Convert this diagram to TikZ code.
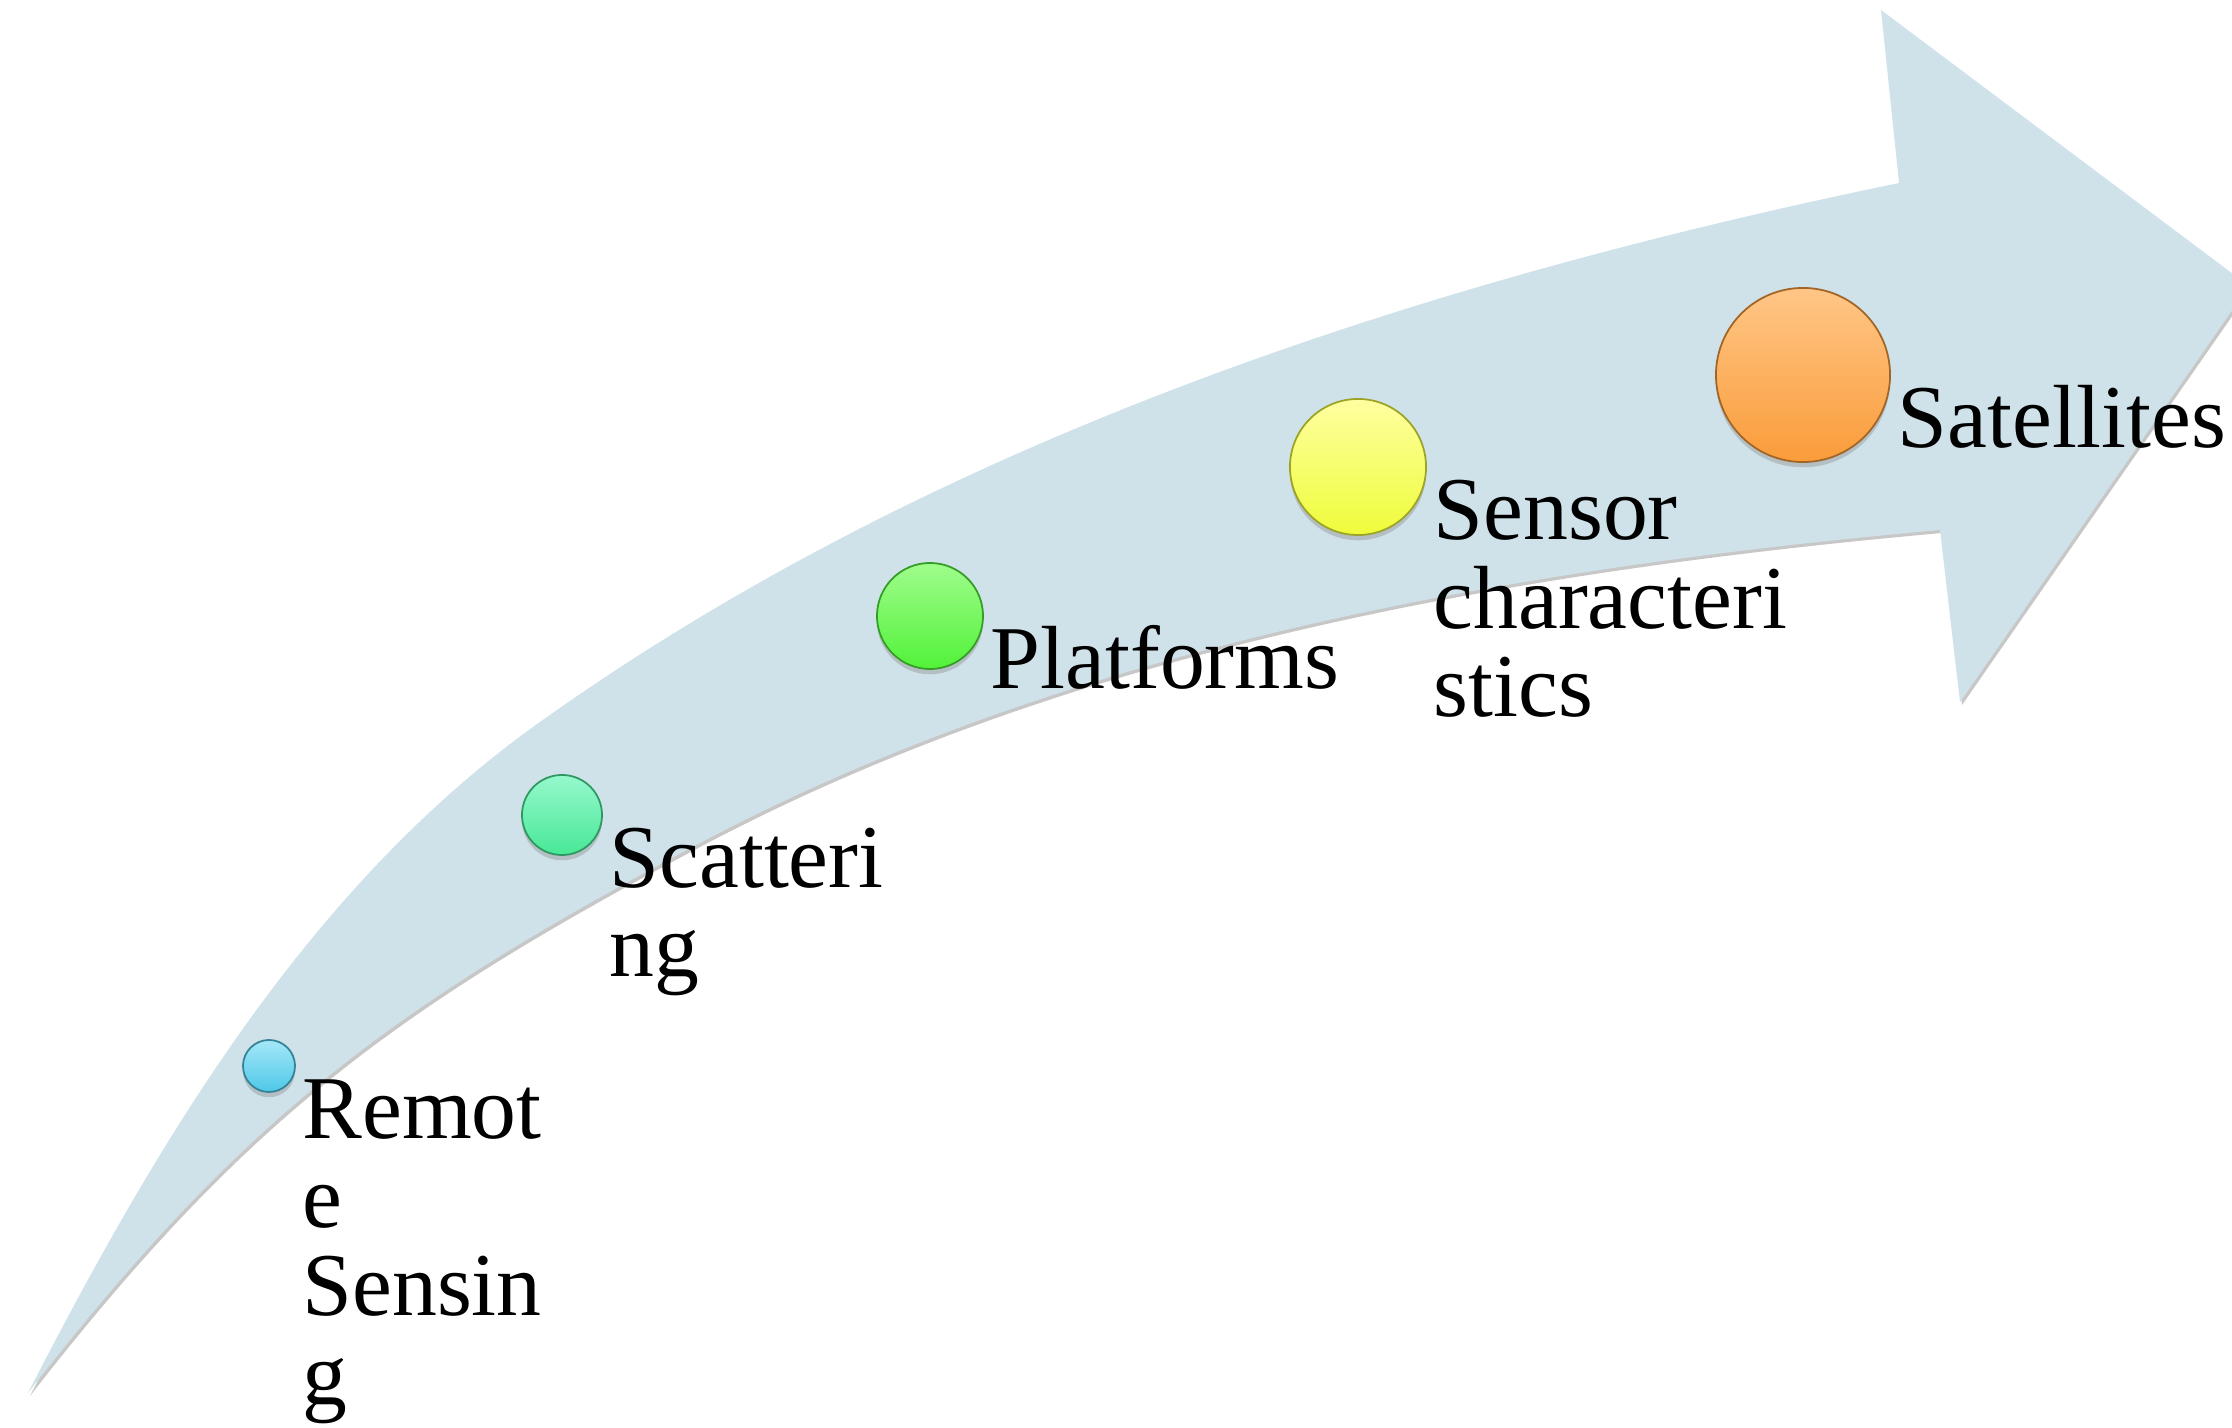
\documentclass[tikz,border=0pt]{standalone}
\usepackage{fontspec}
\setmainfont{Liberation Serif}
\usetikzlibrary{shadows}

\definecolor{bandblue}{RGB}{208,226,233}
\definecolor{rsTop}{RGB}{165,232,248}
\definecolor{rsBot}{RGB}{78,200,232}
\definecolor{scTop}{RGB}{150,248,205}
\definecolor{scBot}{RGB}{72,232,150}
\definecolor{plTop}{RGB}{160,252,140}
\definecolor{plBot}{RGB}{82,242,58}
\definecolor{seTop}{RGB}{255,255,160}
\definecolor{seBot}{RGB}{238,252,58}
\definecolor{saTop}{RGB}{255,198,135}
\definecolor{saBot}{RGB}{250,156,58}

% outline of the curved arrow (pixel units)
\newcommand\bendarrow{
  (28,1393) .. controls (156,1144) and (306,891) .. (533,727)
  .. controls (931,441) and (1419,282) .. (1899,183)
  -- (1881,10) -- (2249,286) -- (1960,702) -- (1940,530)
  .. controls (1516,568) and (1076,644) .. (700,843)
  .. controls (391,1007) and (243,1117) .. (28,1393)
  -- cycle}

\tikzset{
  ball/.style 2 args={
    circle,
    inner sep=0pt,
    top color=#1,
    bottom color=#2,
    draw=#2!65!black,
    line width=0.5pt,
    drop shadow={opacity=0.35, shadow xshift=0pt, shadow yshift=-1.5pt}
  },
  steplabel/.style={
    anchor=base west,
    align=left,
    inner sep=0pt,
    font=\fontsize{25.5}{25.3}\selectfont
  }
}

\begin{document}
\begin{tikzpicture}[x=0.01cm, y=-0.01cm]
\useasboundingbox (0,0) rectangle (2232,1428);
\clip (0,0) rectangle (2232,1428);

% the band
\fill[black!22, shift={(2,3)}] \bendarrow;
\fill[bandblue] \bendarrow;

% the steps
\node[ball={rsTop}{rsBot}, minimum size=0.52cm] (rs) at (269,1066) {};
\node[ball={scTop}{scBot}, minimum size=0.80cm] (sc) at (562,815) {};
\node[ball={plTop}{plBot}, minimum size=1.06cm] (pl) at (930,616) {};
\node[ball={seTop}{seBot}, minimum size=1.36cm] (se) at (1358,467) {};
\node[ball={saTop}{saBot}, minimum size=1.74cm] (sa) at (1803,375) {};

% labels: base is the last line, so push down by the extra lines
\node[steplabel] (rstext) at ([xshift=0.06cm, yshift=-0.72cm-3*25.3pt]rs.east)
  {Remot\\e\\Sensin\\g};
\node[steplabel] (sctext) at ([xshift=0.06cm, yshift=-0.72cm-25.3pt]sc.east)
  {Scatteri\\ng};
\node[steplabel] (pltext) at ([xshift=0.06cm, yshift=-0.72cm]pl.east)
  {Platforms};
\node[steplabel] (setext) at ([xshift=0.06cm, yshift=-0.72cm-2*25.3pt]se.east)
  {Sensor\\characteri\\stics};
\node[steplabel] (satext) at ([xshift=0.06cm, yshift=-0.72cm]sa.east)
  {Satellites};
\end{tikzpicture}
\end{document}
